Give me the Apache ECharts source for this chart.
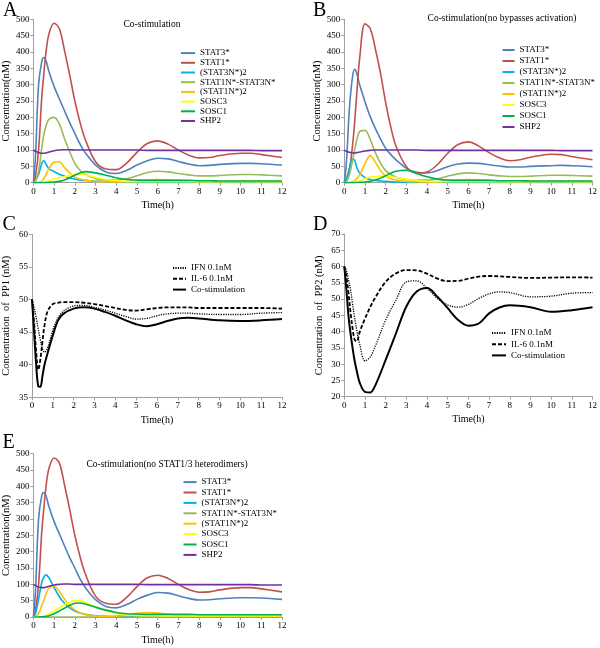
<!DOCTYPE html>
<html><head><meta charset="utf-8">
<script src="https://cdn.jsdelivr.net/npm/echarts@6/dist/echarts.min.js"></script>
<style>html,body{margin:0;padding:0;background:#fff}#c{width:600px;height:648px}</style>
</head><body><div id="c"></div>
<script>
// ---- time grids ----
const tSTAT = [0, 0.1, 0.25, 0.4, 0.5, 0.6, 0.75, 1, 1.25, 1.5, 1.75, 2, 2.25, 2.5, 3, 3.5, 4, 4.5, 5, 5.5, 6, 6.5, 7, 7.5, 8, 8.5, 9, 10, 10.5, 11, 12];
const tPP = [0, 0.1, 0.2, 0.3, 0.4, 0.5, 0.6, 0.75, 1, 1.25, 1.5, 2, 2.5, 3, 3.5, 4, 4.5, 5, 5.5, 6, 6.5, 7, 7.5, 8, 9, 10, 11, 12];
const xTicks = [0, 12, 1];
const speciesNames = ['STAT3*', 'STAT1*', '(STAT3N*)2', 'STAT1N*-STAT3N*', '(STAT1N*)2', 'SOSC3', 'SOSC1', 'SHP2'];
const ppNames = ['IFN 0.1nM', 'IL-6 0.1nM', 'Co-stimulation'];

// ---- Panel A: Co-stimulation ----
const A_STAT3 = [0, 80, 300, 370, 383, 375, 340, 294, 257, 220, 184, 151, 118, 92, 54, 33, 28, 38, 54, 67, 75, 73, 65, 57, 52, 53, 56, 59, 59, 58, 54];
const A_STAT1 = [0, 20, 100, 258, 330, 395, 455, 488, 472, 405, 330, 250, 185, 133, 64, 42, 40, 60, 93, 120, 128, 118, 100, 84, 76, 77, 83, 90, 90, 86, 77];
const A_S3N2 = [0, 5, 25, 58, 67, 58, 43, 34, 26, 20, 15, 11, 8, 7, 5, 3, 2, 1, 1, 0.5, 0.5, 0.5, 0.5, 0.5, 0.5, 0.5, 0.5, 0.5, 0.5, 0.5, 0.5];
const A_S1S3 = [0, 5, 35, 105, 145, 172, 194, 200, 180, 135, 95, 59, 38, 25, 13, 8, 8, 12, 21, 31, 35, 33, 28, 24, 21, 21, 22, 25, 25, 24, 21];
const A_S1N2 = [0, 0, 1, 5, 12, 24, 42, 63, 64, 46, 30, 17, 11, 7, 4, 3, 2, 3, 6, 9, 10, 9, 7, 5, 4, 4, 4, 5, 5, 4, 4];
const A_SOSC3 = [0, 0, 0, 0.5, 1, 2, 5, 11, 15, 18, 22, 26, 27, 24, 16, 10, 6, 4, 3, 3, 3, 3, 3, 3, 3, 3, 3, 3, 3, 3, 3];
const A_SOSC1 = [0, 0, 0, 0, 0, 0.5, 1, 2, 4, 8, 15, 23, 30, 34, 30, 23, 15, 10, 8, 7, 7, 7, 7, 7, 6, 6, 5, 5, 5, 5, 5];
const A_SHP2 = [100, 96, 92, 90, 90, 91, 94, 98, 100, 101, 101, 100, 100, 100, 100, 100, 100, 100, 100, 99, 99, 99, 99, 99, 99, 99, 99, 99, 99, 98, 98];

// ---- Panel B: no bypasses activation ----
const B_STAT3 = [0, 60, 230, 325, 347, 335, 298, 248, 203, 166, 134, 105, 86, 70, 44, 32, 30, 37, 49, 57, 60, 59, 55, 51, 48, 48, 50, 52, 53, 52, 49];
const B_STAT1 = [0, 5, 40, 115, 185, 270, 385, 486, 472, 410, 335, 245, 170, 112, 49, 30, 33, 55, 90, 117, 125, 112, 92, 76, 67, 70, 78, 87, 86, 80, 70];
const B_S3N2 = [0, 12, 45, 73, 68, 48, 29, 16, 10, 7, 5, 4, 3, 2, 1, 0.5, 0.5, 0.5, 0.5, 0.5, 0.5, 0.5, 0.5, 0.5, 0.5, 0.5, 0.5, 0.5, 0.5, 0.5, 0.5];
const B_S1S3 = [0, 3, 25, 68, 100, 130, 157, 160, 133, 92, 60, 37, 25, 17, 10, 8, 8, 12, 20, 27, 30, 28, 24, 21, 19, 19, 20, 23, 23, 22, 20];
const B_S1N2 = [0, 0, 1, 3, 7, 12, 25, 58, 83, 63, 37, 20, 12, 8, 4, 3, 2, 3, 6, 9, 10, 9, 7, 5, 4, 4, 4, 5, 5, 4, 4];
const B_SOSC3 = [0, 0, 0, 0.5, 1, 2, 5, 13, 17, 19, 20, 20, 18, 16, 11, 7, 4, 3, 3, 3, 3, 3, 3, 3, 3, 3, 3, 3, 3, 3, 3];
const B_SOSC1 = [0, 0, 0, 0, 0, 0.5, 1, 2, 4, 8, 14, 21, 29, 35, 38, 28, 18, 11, 8, 7, 7, 7, 7, 6, 6, 6, 5, 5, 5, 5, 5];
const B_SHP2 = [100, 96, 93, 91, 91, 92, 94, 97, 99, 100, 100, 100, 100, 100, 100, 100, 99, 99, 99, 99, 99, 99, 99, 99, 99, 99, 99, 99, 98, 98, 98];

// ---- Panel E: no STAT1/3 heterodimers ----
const E_STAT3 = [0, 80, 300, 370, 381, 373, 338, 292, 255, 218, 182, 150, 117, 91, 53, 32, 28, 38, 54, 67, 75, 73, 65, 57, 52, 53, 56, 59, 59, 58, 54];
const E_STAT1 = [0, 20, 100, 258, 330, 395, 455, 487, 472, 405, 330, 250, 185, 133, 64, 42, 39, 60, 93, 120, 128, 118, 100, 84, 76, 77, 83, 90, 90, 86, 77];
const E_S3N2 = [0, 10, 55, 105, 122, 129, 120, 90, 62, 42, 28, 18, 12, 8, 4, 2, 1, 0.5, 0.5, 0.5, 0.5, 0.5, 0.5, 0.5, 0.5, 0.5, 0.5, 0.5, 0.5, 0.5, 0.5];
const E_S1S3 = [0, 0, 0, 0, 0, 0, 0, 0, 0, 0, 0, 0, 0, 0, 0, 0, 0, 0, 0, 0, 0, 0, 0, 0, 0, 0, 0, 0, 0, 0, 0];
const E_S1N2 = [0, 1, 10, 35, 50, 68, 88, 94, 78, 55, 35, 22, 13, 8, 3, 2, 3, 6, 11, 14, 12, 9, 6, 5, 4, 4, 4, 5, 5, 4, 4];
const E_SOSC3 = [0, 0, 0.5, 1, 3, 5, 10, 18, 28, 38, 46, 50, 50, 45, 31, 19, 11, 7, 5, 4, 4, 3, 3, 3, 3, 3, 3, 3, 3, 3, 3];
const E_SOSC1 = [0, 0, 0, 0.5, 1, 2, 4, 10, 18, 27, 35, 42, 43, 40, 30, 21, 14, 10, 9, 8, 8, 8, 8, 8, 7, 7, 7, 7, 7, 7, 7];
const E_SHP2 = [100, 96, 92, 90, 90, 91, 94, 98, 100, 101, 101, 100, 100, 100, 100, 100, 100, 100, 100, 99, 99, 99, 99, 99, 99, 99, 99, 99, 99, 98, 98];

// ---- Panel C: PP1 ----
const C_IFN = [50, 48.8, 47.2, 45.5, 43.8, 42.5, 41.9, 42.6, 45.3, 47.2, 48.2, 49.0, 49.1, 48.8, 48.4, 47.9, 47.4, 47.0, 47.1, 47.5, 47.8, 47.9, 47.9, 47.8, 47.7, 47.7, 47.9, 48.0];
const C_IL6 = [50, 46.5, 42, 39.2, 40.8, 43.5, 46, 48.2, 49.3, 49.5, 49.6, 49.6, 49.5, 49.3, 49.0, 48.7, 48.4, 48.3, 48.5, 48.7, 48.8, 48.8, 48.8, 48.7, 48.7, 48.7, 48.7, 48.6];
const C_CO = [50, 45, 40, 36.7, 36.6, 38.2, 40, 41.8, 44.5, 46.8, 47.8, 48.6, 48.8, 48.6, 48.1, 47.5, 46.8, 46.2, 45.9, 46.2, 46.7, 47.1, 47.2, 47.1, 46.8, 46.7, 46.8, 47.0];

// ---- Panel D: PP2 ----
const D_IFN = [60, 58.8, 56, 53, 48.5, 44.2, 40.5, 36, 31, 32.2, 35.5, 43.6, 49.7, 55.3, 55.6, 53.3, 50.2, 48.2, 47.5, 48.4, 50.2, 51.6, 52.2, 52, 50.7, 50.9, 51.8, 52];
const D_IL6 = [60, 57, 52, 46, 41, 37.5, 37, 40, 44, 47.5, 50.5, 55.3, 57.9, 58.9, 58.8, 57.8, 56.3, 55.5, 55.6, 56.3, 56.9, 57.1, 57, 56.8, 56.5, 56.6, 56.7, 56.6];
const D_CO = [60, 53, 45, 39.5, 35, 31, 28, 24.2, 21.5, 21.3, 23.5, 31.3, 39.5, 47.7, 52.3, 53.4, 50.7, 47.2, 43.6, 41.8, 42.5, 45.6, 47.4, 48.1, 47.5, 46.1, 46.6, 47.5];

// ---- styling ----
const FONT = 'Liberation Serif';
const speciesColors = ['#4F81BD', '#C0504D', '#00B0F0', '#9BBB59', '#FFC000', '#FFFF00', '#00B050', '#7030A0'];
const ppStyles = [
  {type: [1.2, 1.2], width: 1.3},
  {type: [4, 2], width: 1.8},
  {type: 'solid', width: 2}
];

const panels = [
  {letter: 'A', lx: 3, ly: 21, grid: {left: 31.7, top: 19.3, width: 250.3, height: 163.4}, y: [0, 500, 50],
   yname: 'Concentration(nM)', title: 'Co-stimulation', tx: 152, ty: 24,
   legend: {left: 180, top: 48.6, itemWidth: 14, itemGap: 0.7}, kind: 'stat',
   data: [A_STAT3, A_STAT1, A_S3N2, A_S1S3, A_S1N2, A_SOSC3, A_SOSC1, A_SHP2]},
  {letter: 'B', lx: 313, ly: 20.5, grid: {left: 344.3, top: 19.3, width: 249, height: 163.4}, y: [0, 500, 50],
   yname: 'Concentration(nM)', title: 'Co-stimulation(no bypasses activation)', tx: 502, ty: 18.5,
   legend: {left: 501.5, top: 45.5, itemWidth: 12, itemGap: 2}, kind: 'stat',
   data: [B_STAT3, B_STAT1, B_S3N2, B_S1S3, B_S1N2, B_SOSC3, B_SOSC1, B_SHP2]},
  {letter: 'C', lx: 2.5, ly: 235, grid: {left: 31.7, top: 234.3, width: 250.3, height: 163}, y: [35, 60, 5],
   yname: 'Concentration  of  PP1 (nM)', title: '', legend: {left: 172, top: 263.5, itemWidth: 13, itemGap: 1.8}, kind: 'pp',
   data: [C_IFN, C_IL6, C_CO]},
  {letter: 'D', lx: 313, ly: 234.5, grid: {left: 344.3, top: 234, width: 249, height: 162.7}, y: [20, 70, 5],
   yname: 'Concentration  of  PP2 (nM)', title: '', legend: {left: 491, top: 328.5, itemWidth: 14, itemGap: 2.2}, kind: 'pp',
   data: [D_IFN, D_IL6, D_CO]},
  {letter: 'E', lx: 2.5, ly: 452.8, grid: {left: 31.7, top: 453.7, width: 250.3, height: 163.3}, y: [0, 500, 50],
   yname: 'Concentration(nM)', title: 'Co-stimulation(no STAT1/3 heterodimers)', tx: 167, ty: 464.3,
   legend: {left: 182.5, top: 477.6, itemWidth: 13, itemGap: 1.4}, kind: 'stat',
   data: [E_STAT3, E_STAT1, E_S3N2, E_S1S3, E_S1N2, E_SOSC3, E_SOSC1, E_SHP2]}
];

const axisGray = '#A0A0A0';
const option = {
  backgroundColor: '#fff', animation: false,
  grid: [], xAxis: [], yAxis: [], series: [], legend: [], graphic: []
};

panels.forEach((p, i) => {
  option.grid.push(Object.assign({containLabel: false}, p.grid));
  option.xAxis.push({
    type: 'value', gridIndex: i, min: xTicks[0], max: xTicks[1], interval: xTicks[2],
    name: 'Time(h)', nameLocation: 'middle', nameGap: 18,
    nameTextStyle: {fontFamily: FONT, fontSize: 10, color: '#000'},
    axisLine: {show: true, lineStyle: {color: axisGray, width: 1}},
    axisTick: {show: true, length: 3, lineStyle: {color: axisGray}},
    axisLabel: {fontFamily: FONT, fontSize: 9, color: '#000', margin: 4},
    splitLine: {show: false}
  });
  option.yAxis.push({
    type: 'value', gridIndex: i, min: p.y[0], max: p.y[1], interval: p.y[2],
    name: p.yname, nameLocation: 'middle', nameGap: 20,
    nameTextStyle: {fontFamily: FONT, fontSize: 10.5, color: '#000'},
    axisLine: {show: true, lineStyle: {color: axisGray, width: 1}},
    axisTick: {show: true, length: 3, lineStyle: {color: axisGray}},
    axisLabel: {fontFamily: FONT, fontSize: 9, color: '#000', margin: 4},
    splitLine: {show: false}
  });
  const names = p.kind === 'stat' ? speciesNames : ppNames;
  const times = p.kind === 'stat' ? tSTAT : tPP;
  p.data.forEach((vals, k) => {
    const ls = p.kind === 'stat'
      ? {color: speciesColors[k], width: 1.6, type: 'solid'}
      : {color: '#000', width: ppStyles[k].width, type: ppStyles[k].type};
    option.series.push({
      type: 'line', name: names[k], xAxisIndex: i, yAxisIndex: i,
      data: times.map((t, j) => [t, vals[j]]),
      smooth: 0.35, symbol: 'none', showSymbol: false,
      lineStyle: ls, itemStyle: {color: ls.color},
      emphasis: {disabled: true}
    });
  });
  option.legend.push({
    orient: 'vertical', left: p.legend.left, top: p.legend.top, padding: 0,
    itemWidth: p.legend.itemWidth, itemHeight: 6, itemGap: p.legend.itemGap,
    data: names, selectedMode: false,
    itemStyle: {opacity: 0},
    textStyle: {fontFamily: FONT, fontSize: 9, color: '#000', lineHeight: 9}
  });
  option.graphic.push({
    type: 'text', x: p.lx, y: p.ly,
    style: {text: p.letter, font: '20px "Liberation Serif"', fill: '#000', textVerticalAlign: 'bottom'}
  });
  if (p.title) {
    option.graphic.push({
      type: 'text', x: p.tx, y: p.ty,
      style: {text: p.title, font: '9.5px "Liberation Serif"', fill: '#000', textAlign: 'center', textVerticalAlign: 'middle'}
    });
  }
});

const chart = echarts.init(document.getElementById('c'), null, {renderer: 'canvas'});
chart.setOption(option);
</script>
</body></html>
